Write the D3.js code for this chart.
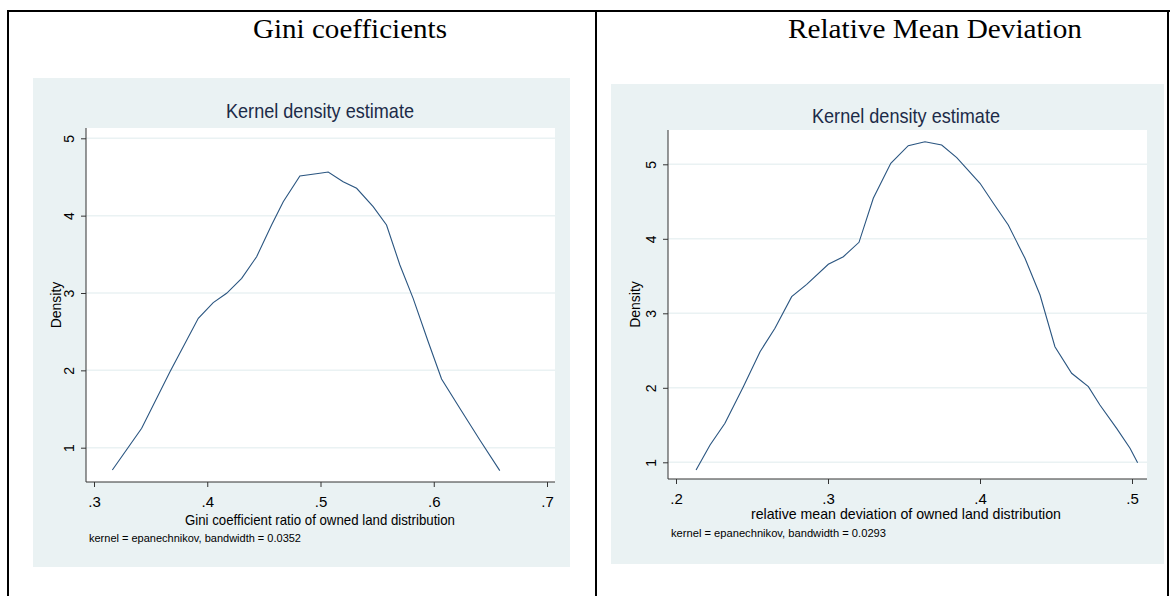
<!DOCTYPE html>
<html>
<head>
<meta charset="utf-8">
<script src="https://cdn.jsdelivr.net/npm/d3@7"></script>
<style>
  body { margin: 0; background: #fff; }
  svg { display: block; }
  .stata { font-family: "Liberation Sans", Arial, sans-serif; fill: #1c2b48; }
</style>
</head>
<body>
<svg id="chart" width="1170" height="596"></svg>
<script>
// Gini coefficient density
const giniX = [0.3162, 0.3421, 0.3671, 0.3921, 0.4053, 0.4171, 0.4304, 0.4436, 0.4568, 0.4671,
  0.4818, 0.4994, 0.5068, 0.5200, 0.5319, 0.5465, 0.5583, 0.5701, 0.5818, 0.5951,
  0.6069, 0.6230, 0.6407, 0.6583];
const giniDensity = [0.712, 1.251, 1.983, 2.673, 2.875, 2.996, 3.190, 3.469, 3.879, 4.180,
  4.513, 4.548, 4.564, 4.439, 4.354, 4.116, 3.879, 3.362, 2.931, 2.370,
  1.888, 1.509, 1.100, 0.703];

// Relative mean deviation density
const rmdX = [0.2132, 0.2224, 0.2322, 0.2443, 0.2553, 0.2651, 0.2761, 0.2860, 0.3002, 0.3101,
  0.3204, 0.3298, 0.3413, 0.3528, 0.3638, 0.3748, 0.3847, 0.4000, 0.4088, 0.4186,
  0.4296, 0.4395, 0.4493, 0.4603, 0.4713, 0.4789, 0.4899, 0.4987, 0.5037];
const rmdDensity = [0.897, 1.232, 1.523, 2.015, 2.485, 2.799, 3.223, 3.389, 3.658, 3.760,
  3.953, 4.544, 5.013, 5.250, 5.303, 5.259, 5.089, 4.745, 4.477, 4.185,
  3.738, 3.246, 2.552, 2.195, 2.015, 1.769, 1.456, 1.188, 0.995];

const yTicks = [1, 2, 3, 4, 5];
const giniXTicks = [0.3, 0.4, 0.5, 0.6, 0.7];
const rmdXTicks = [0.2, 0.3, 0.4, 0.5];

const svg = d3.select("#chart");

// table frame
svg.append("line").attr("x1", 7).attr("x2", 1170).attr("y1", 11).attr("y2", 11)
  .attr("stroke", "#000").attr("stroke-width", 2);
svg.append("line").attr("x1", 8).attr("x2", 8).attr("y1", 10).attr("y2", 596)
  .attr("stroke", "#000").attr("stroke-width", 2);
svg.append("line").attr("x1", 596).attr("x2", 596).attr("y1", 10).attr("y2", 596)
  .attr("stroke", "#000").attr("stroke-width", 2);
svg.append("line").attr("x1", 1168).attr("x2", 1168).attr("y1", 10).attr("y2", 596)
  .attr("stroke", "#000").attr("stroke-width", 2);

function header(text, x, len) {
  svg.append("text").text(text)
    .attr("x", x).attr("y", 38)
    .attr("text-anchor", "middle")
    .attr("textLength", len).attr("lengthAdjust", "spacingAndGlyphs")
    .style("font-family", "'Liberation Serif', 'Times New Roman', serif")
    .style("font-size", "28px")
    .attr("fill", "#000");
}
header("Gini coefficients", 350, 194);
header("Relative Mean Deviation", 935, 294);

function drawPanel(p) {
  const g = svg.append("g").attr("class", "stata");

  g.append("rect")
    .attr("x", p.bg[0]).attr("y", p.bg[1])
    .attr("width", p.bg[2] - p.bg[0]).attr("height", p.bg[3] - p.bg[1])
    .attr("fill", "#eaf2f3");

  g.append("rect")
    .attr("x", p.plot[0]).attr("y", p.plot[1])
    .attr("width", p.plot[2] - p.plot[0]).attr("height", p.plot[3] - p.plot[1])
    .attr("fill", "#fff");

  const x = d3.scaleLinear().domain(p.xDom).range(p.xRange);
  const y = d3.scaleLinear().domain([1, 5]).range(p.yRange);

  // grid
  g.selectAll(".grid").data(p.yTicks).join("line")
    .attr("x1", p.plot[0]).attr("x2", p.plot[2])
    .attr("y1", d => y(d)).attr("y2", d => y(d))
    .attr("stroke", "#eaf2f3").attr("stroke-width", 1.5);

  // density line
  const pts = p.xs.map((v, i) => [v, p.ys[i]]);
  g.append("path")
    .datum(pts)
    .attr("d", d3.line().x(d => x(d[0])).y(d => y(d[1])))
    .attr("fill", "none")
    .attr("stroke", "#2a5580")
    .attr("stroke-width", 1.1);

  // y axis
  const ya = g.append("g")
    .attr("transform", `translate(${p.plot[0]},0)`)
    .call(d3.axisLeft(y).tickValues(p.yTicks).tickSize(5).tickSizeOuter(0).tickFormat(d3.format("d")));
  ya.select(".domain").attr("d", `M0,${p.plot[1]}V${p.plot[3]}`);
  ya.selectAll("text")
    .attr("x", 0).attr("dy", 0)
    .attr("transform", "translate(-12,0) rotate(-90)")
    .attr("text-anchor", "middle")
    .style("font-size", "14px");

  // x axis
  const xa = g.append("g")
    .attr("transform", `translate(0,${p.plot[3]})`)
    .call(d3.axisBottom(x).tickValues(p.xTicks).tickSize(5).tickSizeOuter(0)
      .tickFormat(d => d3.format(".1f")(d).replace(/^0/, "")));
  xa.select(".domain").attr("d", `M${p.plot[0]},0H${p.plot[2]}`);
  xa.selectAll("text").attr("y", 14).style("font-size", "15px");

  g.selectAll(".domain, .tick line").attr("stroke", "#333");
  g.selectAll(".tick text").attr("fill", "#000").style("font-family", "'Liberation Sans', Arial, sans-serif");

  // texts
  g.append("text").text("Kernel density estimate")
    .attr("x", p.titleX).attr("y", p.titleY)
    .attr("text-anchor", "middle")
    .attr("textLength", 188).attr("lengthAdjust", "spacingAndGlyphs")
    .style("font-size", "21px");

  g.append("text").text("Density")
    .attr("transform", `translate(${p.densX},${(p.plot[1] + p.plot[3]) / 2}) rotate(-90)`)
    .attr("text-anchor", "middle")
    .attr("fill", "#000")
    .style("font-size", "14px");

  g.append("text").text(p.xLabel)
    .attr("x", p.titleX).attr("y", p.xLabelY)
    .attr("text-anchor", "middle")
    .attr("textLength", p.xLabelLen).attr("lengthAdjust", "spacingAndGlyphs")
    .attr("fill", "#000")
    .style("font-size", "15px");

  g.append("text").text(p.note)
    .attr("x", p.plot[0] + 3).attr("y", p.noteY)
    .attr("textLength", p.noteLen).attr("lengthAdjust", "spacingAndGlyphs")
    .attr("fill", "#000")
    .style("font-size", "11px");
}

drawPanel({
  bg: [33, 78, 570, 567],
  plot: [86, 128, 555, 482],
  xDom: [0.3, 0.7], xRange: [94, 547],
  yRange: [447.7, 138.3],
  xs: giniX, ys: giniDensity,
  xTicks: giniXTicks, yTicks: yTicks,
  titleX: 320, titleY: 118,
  densX: 61,
  xLabel: "Gini coefficient ratio of owned land distribution", xLabelY: 525, xLabelLen: 270,
  note: "kernel = epanechnikov, bandwidth = 0.0352", noteY: 542, noteLen: 212
});

drawPanel({
  bg: [611, 84, 1164, 564],
  plot: [668, 130, 1147, 479],
  xDom: [0.2, 0.5], xRange: [676, 1132],
  yRange: [462.3, 164.3],
  xs: rmdX, ys: rmdDensity,
  xTicks: rmdXTicks, yTicks: yTicks,
  titleX: 906, titleY: 123,
  densX: 640,
  xLabel: "relative mean deviation of owned land distribution", xLabelY: 519, xLabelLen: 310,
  note: "kernel = epanechnikov, bandwidth = 0.0293", noteY: 537, noteLen: 215
});
</script>
</body>
</html>
